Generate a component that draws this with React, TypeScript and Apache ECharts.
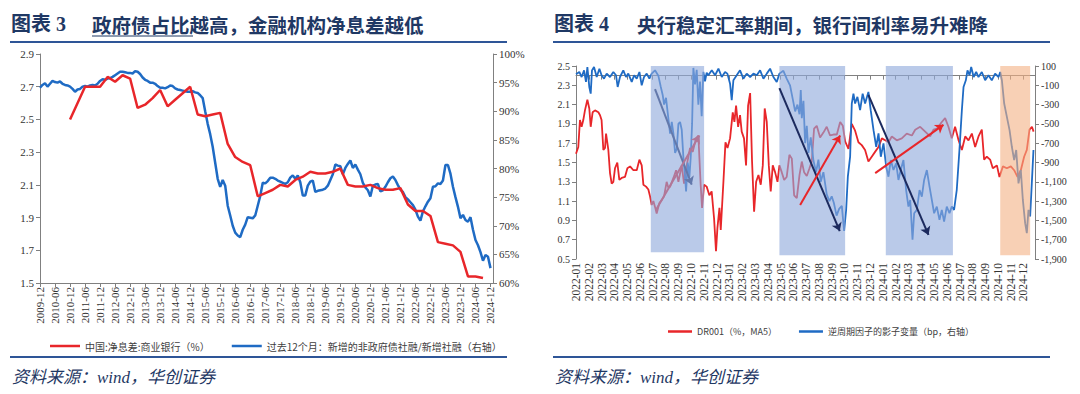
import React, { useEffect, useRef } from 'react';
import * as echarts from 'echarts';

// ---------- Left chart data ----------
const leftMonths: string[] = (() => {
  const out: string[] = [];
  for (let i = 0; i < 182; i++) {
    const t = 2009 * 12 + 11 + i;
    const y = Math.floor(t / 12);
    const m = (t % 12) + 1;
    out.push(`${y}-${String(m).padStart(2, '0')}`);
  }
  return out;
})();

const nimDates = [
  '2010-12', '2011-06', '2011-12', '2012-03', '2012-06', '2012-09', '2012-12',
  '2013-03', '2013-06', '2013-09', '2013-12', '2014-03', '2014-06', '2014-09', '2014-12',
  '2015-03', '2015-06', '2015-09', '2015-12', '2016-03', '2016-06', '2016-09', '2016-12',
  '2017-03', '2017-06', '2017-09', '2017-12', '2018-03', '2018-06', '2018-09', '2018-12',
  '2019-03', '2019-06', '2019-09', '2019-12', '2020-03', '2020-06', '2020-09', '2020-12',
  '2021-03', '2021-06', '2021-09', '2021-12', '2022-03', '2022-06', '2022-09', '2022-12',
  '2023-03', '2023-06', '2023-09', '2023-12', '2024-03', '2024-06', '2024-09',
];
const nimValues = [
  2.5, 2.7, 2.7, 2.76, 2.73, 2.77, 2.75,
  2.57, 2.59, 2.63, 2.68, 2.58, 2.62, 2.66, 2.7,
  2.53, 2.52, 2.53, 2.54, 2.35, 2.27, 2.24, 2.22,
  2.03, 2.05, 2.07, 2.1, 2.09, 2.13, 2.15, 2.18,
  2.17, 2.17, 2.18, 2.2, 2.1, 2.09, 2.09, 2.1,
  2.08, 2.07, 2.07, 2.08, 1.98, 1.94, 1.94, 1.91,
  1.75, 1.74, 1.73, 1.69, 1.54, 1.54, 1.53,
];

// monthly, from 2009-12
const nonGovShare = [
  94.1, 94.6, 94.9, 94.3, 94.8, 95.3, 95.1, 95.0, 95.2, 94.8, 94.6, 94.5,
  94.3, 93.9, 93.4, 93.8, 93.9, 94.3, 94.4, 94.3, 94.5, 94.6, 94.5, 94.8,
  95.3, 95.6, 95.5, 95.7, 95.8, 96.0, 96.3, 96.6, 96.9, 96.9, 96.8, 96.7,
  96.7, 96.6, 97.0, 96.9, 96.5, 95.9, 95.5, 95.3, 95.0, 95.0, 94.8, 94.4,
  94.1, 94.1, 94.0, 94.2, 94.5, 94.4, 94.0, 93.8, 93.7, 93.6, 93.5, 93.4,
  93.4, 93.5, 93.3, 93.2, 92.8, 92.3, 90.0, 87.8, 86.0, 83.8, 81.0, 78.2,
  76.8, 78.0, 77.0, 73.5, 71.8, 70.0, 68.8, 68.3, 68.0, 69.3, 70.2, 71.5,
  71.4, 71.3, 71.8, 73.5, 75.2, 77.5, 77.4, 77.8, 78.4, 78.4, 78.2, 77.9,
  77.7, 77.5, 77.3, 77.6, 78.4, 78.8, 78.2, 78.8, 77.6, 75.3, 75.3, 77.0,
  77.7, 77.9, 75.9, 76.1, 76.2, 76.3, 76.5, 77.0, 78.0, 79.0, 80.7, 80.5,
  80.4, 79.0, 80.1, 80.8, 81.4, 80.1, 80.7, 79.8, 79.0, 77.5, 76.7, 76.2,
  75.1, 77.0, 77.2, 77.3, 76.0, 76.2, 76.8, 77.6, 78.3, 78.6, 78.0, 77.1,
  76.3, 75.9, 75.0, 74.6, 74.1, 73.6, 72.8, 71.6, 70.9, 72.5, 73.4, 74.2,
  74.8, 76.8, 76.9, 77.4, 77.3, 77.9, 80.6, 80.6, 79.1, 76.8, 75.0, 73.3,
  71.3, 71.9, 71.0, 70.7, 71.5, 69.3, 67.5, 66.6, 65.4, 63.9, 64.9, 64.6,
  62.6,
];

// ---------- Right chart data (x = months since 2022-01) ----------
const dr001: number[][] = [
  [0, 1.59], [0.18, 1.66], [0.31, 1.94], [0.44, 1.87], [0.57, 1.94], [0.7, 2.04], [0.89, 2.15],
  [1.04, 2.06], [1.15, 1.87], [1.3, 2.02], [1.49, 2.04], [1.75, 2.02], [1.88, 1.99], [2.0, 1.94],
  [2.14, 1.63], [2.27, 1.65], [2.35, 1.8], [2.53, 1.63], [2.66, 1.39], [2.79, 1.28], [2.92, 1.3],
  [3.05, 1.44], [3.23, 1.5], [3.39, 1.32], [3.57, 1.34], [3.83, 1.35], [4.02, 1.44], [4.23, 1.46],
  [4.49, 1.42], [4.75, 1.42], [4.96, 1.53], [5.14, 1.47], [5.27, 1.27], [5.48, 1.25], [5.66, 1.22],
  [5.79, 1.15], [5.92, 1.06], [6.05, 1.1], [6.18, 1.04], [6.31, 0.97], [6.52, 1.08], [6.7, 1.11],
  [6.89, 1.15], [7.09, 1.3], [7.22, 1.24], [7.36, 1.25], [7.62, 1.34], [7.83, 1.42], [8.01, 1.3],
  [8.27, 1.47], [8.45, 1.28], [8.66, 1.47], [8.92, 1.65], [9.13, 1.61], [9.39, 1.75], [9.57, 1.78],
  [9.75, 1.27], [9.86, 1.03], [10.02, 1.27], [10.22, 1.25], [10.43, 1.16], [10.61, 1.2], [10.8, 0.92],
  [10.95, 0.58], [11.06, 0.82], [11.22, 1.03], [11.32, 0.8], [11.53, 1.3], [11.69, 1.71], [11.85, 1.65],
  [12.05, 1.75], [12.26, 2.02], [12.39, 1.92], [12.52, 2.09], [12.68, 1.87], [12.83, 1.99], [12.96, 1.82],
  [13.14, 1.75], [13.3, 1.47], [13.46, 2.09], [13.62, 2.22], [13.77, 1.51], [13.93, 0.99], [14.09, 1.3],
  [14.27, 1.37], [14.45, 1.27], [14.61, 1.47], [14.76, 2.06], [14.92, 1.92], [15.08, 1.47], [15.23, 1.2],
  [15.39, 1.47], [15.57, 1.4], [15.76, 1.3], [15.91, 1.47], [16.09, 1.4], [16.28, 1.32], [16.48, 1.35],
  [16.69, 1.58], [16.88, 1.54], [17.06, 1.16], [17.27, 1.13], [17.48, 1.37], [17.66, 1.51], [17.84, 1.4],
  [18.05, 1.36], [18.26, 1.44], [18.44, 1.51], [18.62, 1.85], [18.83, 1.88], [19.09, 1.76], [19.35, 1.81],
  [19.61, 1.87], [19.87, 1.78], [20.14, 1.79], [20.4, 1.79], [20.66, 1.92], [20.87, 1.88], [21.05, 1.72],
  [21.31, 1.64], [21.57, 1.9], [21.83, 1.83], [22.09, 1.71], [22.35, 1.68], [22.61, 1.63], [22.87, 1.51],
  [23.13, 1.56], [23.39, 1.61], [23.66, 1.66], [23.92, 1.75], [24.18, 1.73], [24.44, 1.71], [24.7, 1.77],
  [25.09, 1.73], [25.48, 1.75], [25.87, 1.8], [26.27, 1.78], [26.53, 1.84], [26.92, 1.87], [27.31, 1.82],
  [27.7, 1.77], [27.96, 1.84], [28.22, 1.85], [28.61, 1.92], [28.87, 1.96], [29.13, 1.87], [29.39, 1.75],
  [29.65, 1.87], [29.92, 1.73], [30.18, 1.63], [30.44, 1.77], [30.7, 1.73], [30.96, 1.8], [31.22, 1.66],
  [31.48, 1.77], [31.74, 1.84], [31.92, 1.53], [32.13, 1.56], [32.39, 1.53], [32.6, 1.44], [32.92, 1.47],
  [33.12, 1.35], [33.39, 1.46], [33.7, 1.44], [34.01, 1.46], [34.27, 1.42], [34.53, 1.35], [34.79, 1.42],
  [35.05, 1.56], [35.26, 1.63], [35.47, 1.84], [35.66, 1.87], [35.79, 1.82],
];

const shadowVar: number[][] = [
  [0, 14], [0.26, 38], [0.44, -14], [0.63, 55], [0.78, -65], [0.89, 90], [1.04, -117], [1.15, -186],
  [1.25, 55], [1.41, 90], [1.62, -14], [1.83, 72], [2.0, 4], [2.19, -31], [2.4, 21], [2.66, -14],
  [2.92, 38], [3.13, 4], [3.26, -117], [3.44, -14], [3.7, 55], [3.91, -14], [4.09, 21], [4.36, -65],
  [4.54, 4], [4.75, -31], [4.96, 38], [5.14, -100], [5.32, -14], [5.53, 21], [5.74, -31], [5.92, 21],
  [6.18, 55], [6.44, 0], [6.62, -110], [6.78, -200], [6.89, -300], [7.04, -230], [7.22, -440],
  [7.36, -600], [7.49, -480], [7.62, -600], [7.75, -800], [7.88, -760], [8.01, -500], [8.14, -480],
  [8.27, -560], [8.4, -850], [8.53, -1050], [8.61, -1200], [8.74, -900], [8.87, -1050], [8.97, -850],
  [9.08, -500], [9.18, 80], [9.31, -90], [9.44, 60], [9.57, -300], [9.7, -60], [9.83, -420], [9.96, 40],
  [10.09, -60], [10.22, 30], [10.35, 4], [10.62, 55], [10.88, 4], [11.14, 72], [11.4, -14], [11.66, 38],
  [11.84, 21], [12.05, -83], [12.18, -255], [12.31, -48], [12.57, 4], [12.83, 55], [13.09, -31],
  [13.35, 21], [13.62, -14], [13.88, 21], [14.14, 4], [14.4, 55], [14.66, -31], [14.92, 21], [15.18, 72],
  [15.44, -14], [15.7, -65], [15.91, 21], [16.22, 50], [16.48, -30], [16.74, -100], [16.95, -240],
  [17.14, -370], [17.32, -300], [17.48, -400], [17.58, -150], [17.66, -440], [17.79, -260], [17.92, -700],
  [18.05, -520], [18.18, -800], [18.36, -640], [18.57, -880], [18.78, -1000], [18.96, -870], [19.14, -1100],
  [19.35, -1000], [19.61, -1230], [19.82, -1300], [20.0, -1250], [20.17, -1320], [20.38, -1450],
  [20.58, -1380], [20.79, -1350], [20.97, -1610], [21.13, -1390], [21.26, -1050], [21.44, -840],
  [21.57, -290], [21.7, -186], [21.83, -289], [22.01, -220], [22.22, -358], [22.42, -186], [22.61, -289],
  [22.87, -169], [23.05, -358], [23.27, -565], [23.48, -737], [23.66, -599], [23.84, -840], [24.05, -702],
  [24.26, -944], [24.44, -1047], [24.62, -875], [24.83, -978], [25.04, -909], [25.22, -1081], [25.4, -978],
  [25.61, -875], [25.82, -1185], [26.0, -1357], [26.14, -1288], [26.32, -1701], [26.45, -1426],
  [26.66, -1391], [26.87, -1185], [27.05, -1254], [27.23, -1081], [27.44, -978], [27.65, -1150],
  [27.83, -1288], [28.01, -1426], [28.22, -1357], [28.43, -1495], [28.61, -1391], [28.79, -1512],
  [29.0, -1357], [29.21, -1426], [29.39, -1357], [29.57, -1391], [29.78, -1185], [29.99, -771],
  [30.18, -358], [30.31, -117], [30.49, -48], [30.62, 55], [30.78, 4], [30.91, 90], [31.1, -14],
  [31.3, 38], [31.48, -14], [31.74, 38], [32.0, -48], [32.26, 4], [32.52, -48], [32.78, 21], [33.05, -14],
  [33.18, 38], [33.31, -48], [33.49, -289], [33.7, -427], [33.91, -565], [34.09, -737], [34.27, -875],
  [34.43, -771], [34.61, -1116], [34.79, -978], [34.95, -1288], [35.13, -1529], [35.26, -1632],
  [35.39, -1391], [35.52, -1460], [35.65, -1116], [35.78, -771],
];

// shaded periods [from, to] in months since 2022-01, and bottom on left axis
const blueShades = [[5.85, 10.02, 0.57], [15.91, 21.05, 0.54], [24.23, 29.48, 0.54]];
const orangeShades = [[33.18, 35.52, 0.54]];

// trend arrows [x1, y1, x2, y2] (left-axis units)
const arrowsUnderShade = [
  { p: [6.18, 2.26, 9.05, 1.27], c: 'navy' },
  { p: [6.26, 1.01, 9.65, 1.78], c: 'red' },
];
const arrowsOverShade = [
  { p: [15.91, 2.27, 20.63, 0.79], c: 'navy' },
  { p: [17.53, 1.06, 20.66, 1.78], c: 'red' },
  { p: [22.87, 2.2, 27.57, 0.75], c: 'navy' },
  { p: [23.4, 1.39, 28.74, 1.89], c: 'red' },
];

const NAME_NIM = '中国:净息差:商业银行（%）';
const NAME_SHARE = '过去12个月：新增的非政府债社融/新增社融（右轴）';
const NAME_DR = 'DR001（%，MA5）';
const NAME_SHADOW = '逆周期因子的影子变量（bp，右轴）';

const RED = '#E8262A';
const BLUE = '#1F6BC4';
const NAVY = '#1C2A5E';
const TITLE = '#1F3864';
const RULE = '#2E5597';
const SERIF = '"Liberation Serif", "Times New Roman", serif';
const SERIF_CJK = '"Liberation Serif", "Noto Sans CJK SC", serif';
const CJK = '"Noto Sans CJK SC", "Liberation Sans", sans-serif';

function axisCommon() {
  return {
    axisLine: { show: true, lineStyle: { color: '#808080', width: 1 } },
    axisTick: { show: true, length: 4, lineStyle: { color: '#808080' } },
    splitLine: { show: false },
  };
}

function arrowLines(list: { p: number[]; c: string }[]) {
  return list.map((a) => [
    {
      coord: [a.p[0], a.p[1]],
      lineStyle: { color: a.c === 'navy' ? NAVY : RED, width: 2, type: 'solid' },
    },
    { coord: [a.p[2], a.p[3]] },
  ]);
}

export default function App() {
  const ref = useRef<HTMLDivElement>(null);
  useEffect(() => {
    if (!ref.current) return;
    const chart = echarts.init(ref.current, undefined, { renderer: 'svg' });
    const monthLabel = (v: number) => {
      const r = Math.round(v);
      if (Math.abs(v - r) > 1e-6 || r > 35) return '';
      const t = 2022 * 12 + r;
      return `${Math.floor(t / 12)}-${String((t % 12) + 1).padStart(2, '0')}`;
    };
    const option: any = {
      animation: false,
      backgroundColor: '#fff',
      grid: [
        { left: 40, top: 54, width: 453, height: 229 },
        { left: 576, top: 66, width: 459, height: 193 },
      ],
      xAxis: [
        {
          gridIndex: 0,
          type: 'category',
          data: leftMonths,
          boundaryGap: false,
          ...axisCommon(),
          axisTick: { show: true, length: 4, interval: (i: number) => i % 6 === 0, lineStyle: { color: '#808080' } },
          axisLabel: {
            interval: (i: number) => i % 6 === 0,
            rotate: 90,
            margin: 4,
            fontSize: 11,
            fontFamily: SERIF,
            color: '#333',
          },
        },
        {
          gridIndex: 1,
          type: 'value',
          min: 0,
          max: 35.9,
          interval: 1,
          ...axisCommon(),
          axisLabel: {
            rotate: 90,
            margin: 4,
            fontSize: 11.5,
            fontFamily: SERIF,
            color: '#333',
            showMaxLabel: false,
            formatter: monthLabel,
          },
        },
      ],
      yAxis: [
        {
          gridIndex: 0, type: 'value', position: 'left', min: 1.5, max: 2.9, interval: 0.2,
          ...axisCommon(),
          axisLabel: { fontSize: 11, fontFamily: SERIF, color: '#333', margin: 6, formatter: (v: number) => v.toFixed(1) },
        },
        {
          gridIndex: 0, type: 'value', position: 'right', min: 60, max: 100, interval: 5,
          ...axisCommon(),
          axisLabel: { fontSize: 11, fontFamily: SERIF, color: '#333', margin: 6, formatter: (v: number) => `${Math.round(v)}%` },
        },
        {
          gridIndex: 1, type: 'value', position: 'left', min: 0.5, max: 2.5, interval: 0.2,
          ...axisCommon(),
          axisLabel: { fontSize: 10, fontFamily: SERIF, color: '#333', margin: 6, formatter: (v: number) => v.toFixed(1) },
        },
        {
          gridIndex: 1, type: 'value', position: 'right', min: -1900, max: 100, interval: 200,
          ...axisCommon(),
          axisLabel: {
            fontSize: 10, fontFamily: SERIF, color: '#333', margin: 6,
            formatter: (v: number) => Math.round(v).toLocaleString('en-US'),
          },
        },
      ],
      legend: [
        {
          data: [NAME_NIM, NAME_SHARE],
          left: 45, top: 336, icon: 'rect', itemWidth: 30, itemHeight: 2.5, itemGap: 22,
          textStyle: { fontSize: 10, color: '#404040', fontFamily: CJK },
        },
        {
          data: [NAME_DR, NAME_SHADOW],
          left: 663, top: 322, icon: 'rect', itemWidth: 24, itemHeight: 2.5, itemGap: 22,
          textStyle: { fontSize: 9, color: '#404040', fontFamily: CJK },
        },
      ],
      series: [
        {
          name: NAME_NIM, type: 'line', xAxisIndex: 0, yAxisIndex: 0, showSymbol: false, z: 3,
          data: nimDates.map((d, i) => [leftMonths.indexOf(d), nimValues[i]]),
          lineStyle: { color: RED, width: 2.5 }, itemStyle: { color: RED },
        },
        {
          name: NAME_SHARE, type: 'line', xAxisIndex: 0, yAxisIndex: 1, showSymbol: false, z: 2,
          data: nonGovShare,
          lineStyle: { color: BLUE, width: 2.5 }, itemStyle: { color: BLUE },
        },
        {
          name: NAME_DR, type: 'line', xAxisIndex: 1, yAxisIndex: 2, showSymbol: false, z: 2,
          data: dr001,
          lineStyle: { color: RED, width: 1.8 }, itemStyle: { color: RED },
        },
        {
          name: NAME_SHADOW, type: 'line', xAxisIndex: 1, yAxisIndex: 3, showSymbol: false, z: 3,
          data: shadowVar,
          lineStyle: { color: BLUE, width: 1.8 }, itemStyle: { color: BLUE },
        },
        {
          name: 'arrows-under', type: 'line', xAxisIndex: 1, yAxisIndex: 2, data: [],
          markLine: {
            z: 4, silent: true, symbol: ['none', 'arrow'], symbolSize: 8,
            label: { show: false }, emphasis: { disabled: true },
            data: arrowLines(arrowsUnderShade),
          },
        },
        {
          name: 'shades', type: 'line', xAxisIndex: 1, yAxisIndex: 2, data: [],
          markArea: {
            z: 5, silent: true,
            data: [
              ...blueShades.map((s) => [
                { coord: [s[0], s[2]], itemStyle: { color: 'rgba(143,170,220,0.62)' } },
                { coord: [s[1], 2.5] },
              ]),
              ...orangeShades.map((s) => [
                { coord: [s[0], s[2]], itemStyle: { color: 'rgba(244,176,132,0.6)' } },
                { coord: [s[1], 2.5] },
              ]),
            ],
          },
        },
        {
          name: 'arrows-over', type: 'line', xAxisIndex: 1, yAxisIndex: 2, data: [],
          markLine: {
            z: 6, silent: true, symbol: ['none', 'arrow'], symbolSize: 8,
            label: { show: false }, emphasis: { disabled: true },
            data: arrowLines(arrowsOverShade),
          },
        },
      ],
      graphic: [
        { type: 'text', x: 11, y: 24, style: { text: '图表 3', font: `bold 20px ${SERIF_CJK}`, fill: TITLE, verticalAlign: 'middle', textVerticalAlign: 'middle' } },
        { type: 'text', x: 92, y: 24, style: { text: '政府债占比越高，金融机构净息差越低', font: `bold 19.5px ${CJK}`, fill: TITLE, verticalAlign: 'middle', textVerticalAlign: 'middle' } },
        { type: 'line', shape: { x1: 92, y1: 36, x2: 193, y2: 36 }, style: { stroke: TITLE, lineWidth: 1 } },
        { type: 'line', shape: { x1: 10, y1: 42, x2: 507, y2: 42 }, style: { stroke: RULE, lineWidth: 2 } },
        { type: 'text', x: 554, y: 24, style: { text: '图表 4', font: `bold 20px ${SERIF_CJK}`, fill: TITLE, verticalAlign: 'middle', textVerticalAlign: 'middle' } },
        { type: 'text', x: 637, y: 24, style: { text: '央行稳定汇率期间，银行间利率易升难降', font: `bold 19.5px ${CJK}`, fill: TITLE, verticalAlign: 'middle', textVerticalAlign: 'middle' } },
        { type: 'line', shape: { x1: 553, y1: 42, x2: 1050, y2: 42 }, style: { stroke: RULE, lineWidth: 2 } },
        { type: 'line', shape: { x1: 10, y1: 357, x2: 507, y2: 357 }, style: { stroke: RULE, lineWidth: 2 } },
        { type: 'line', shape: { x1: 553, y1: 357, x2: 1050, y2: 357 }, style: { stroke: RULE, lineWidth: 2 } },
        { type: 'text', x: 12, y: 377, style: { text: '资料来源：wind，华创证券', font: `italic 17px ${SERIF_CJK}`, fill: TITLE, verticalAlign: 'middle', textVerticalAlign: 'middle' } },
        { type: 'text', x: 555, y: 377, style: { text: '资料来源：wind，华创证券', font: `italic 17px ${SERIF_CJK}`, fill: TITLE, verticalAlign: 'middle', textVerticalAlign: 'middle' } },
      ],
    };
    chart.setOption(option);
    return () => chart.dispose();
  }, []);
  return (
    <div
      ref={ref}
      style={{ position: 'fixed', left: 0, top: 0, width: 1080, height: 394, background: '#fff' }}
    />
  );
}
